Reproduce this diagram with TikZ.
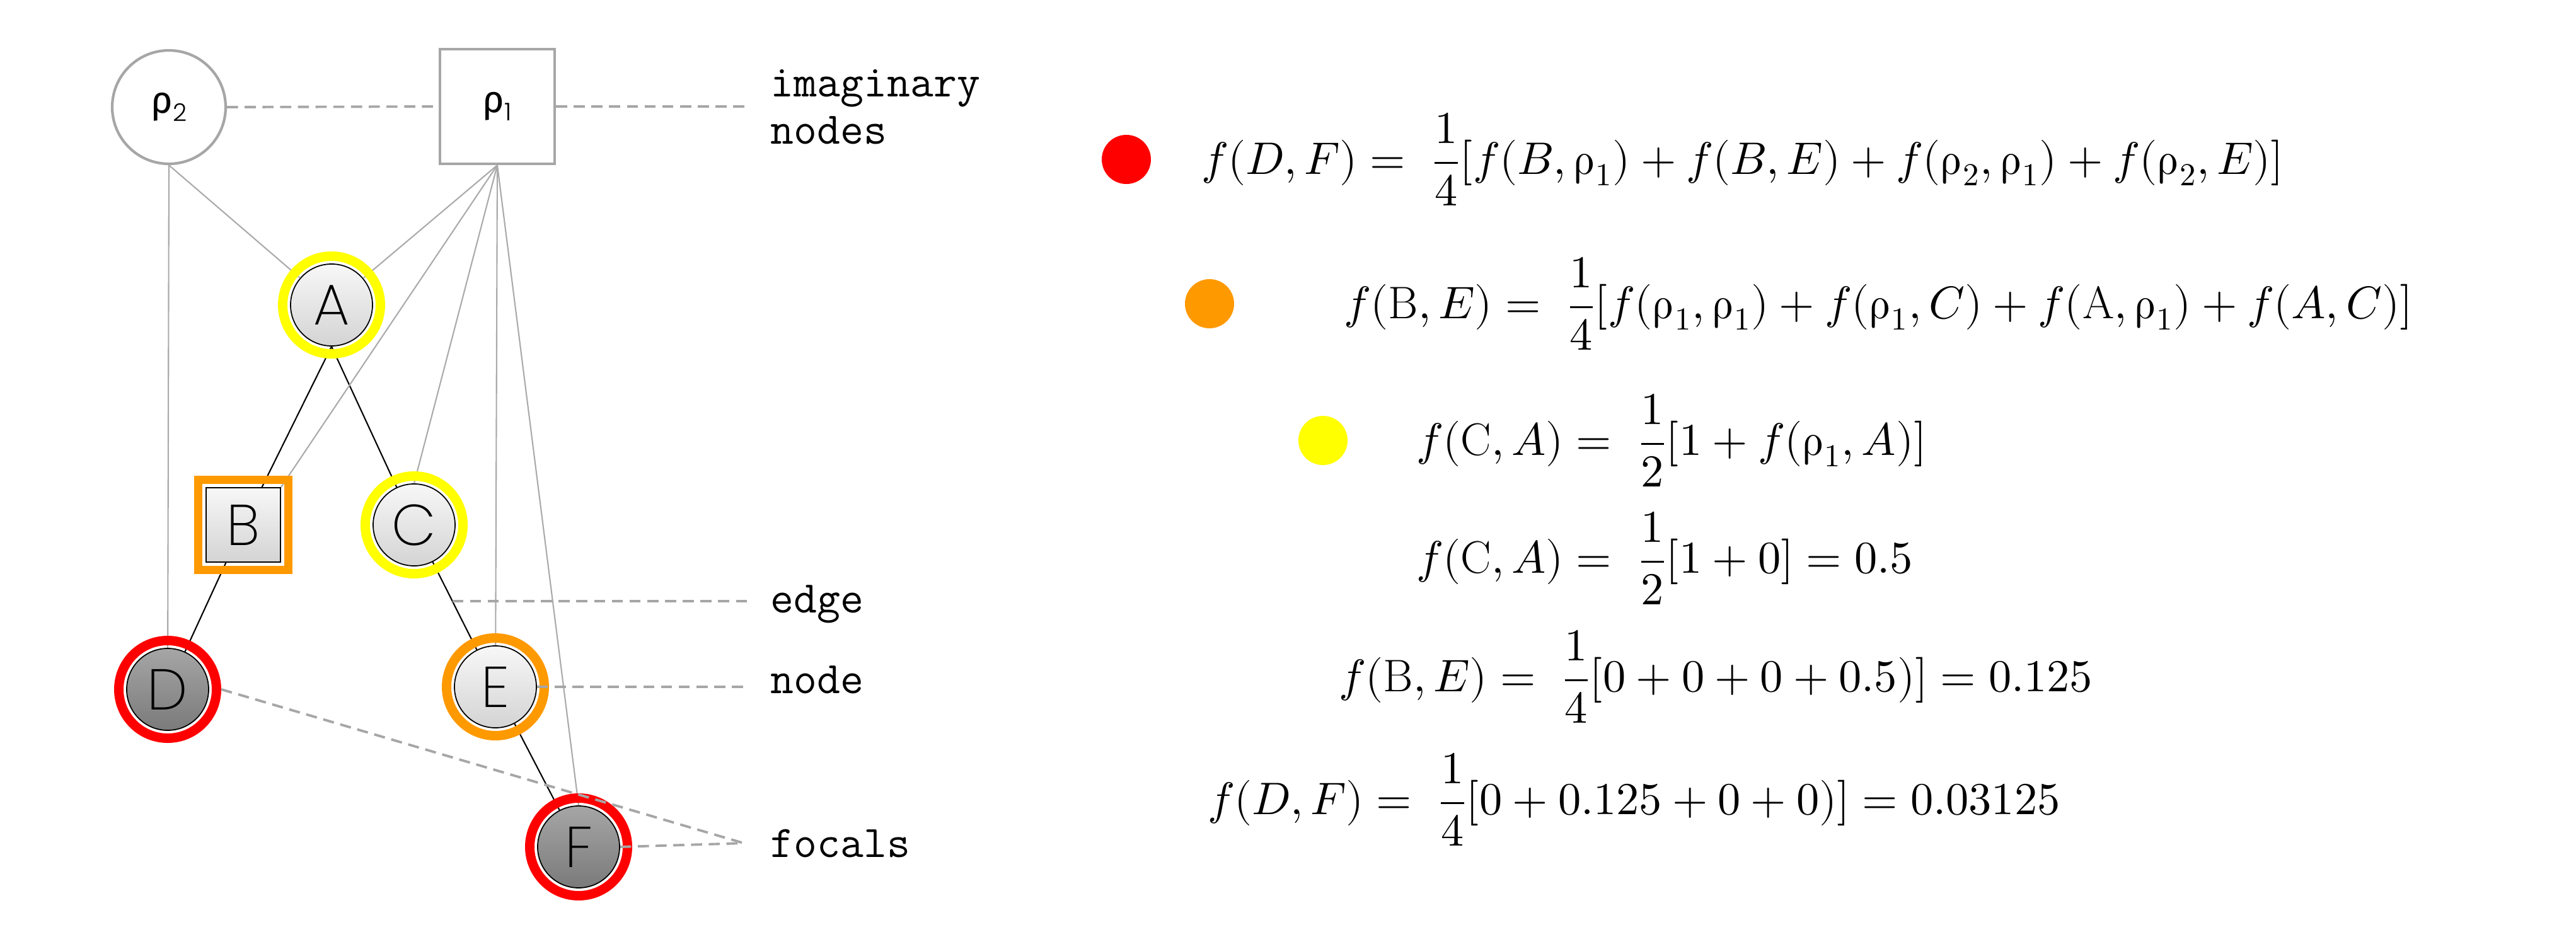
\documentclass[tikz,border=0pt]{standalone}
\usepackage{amsmath}
\usepackage{fontspec}
\usepackage{unicode-math}
\newfontfamily\letterfont{Poppins ExtraLight}
\newfontfamily\subfont{Poppins Light}
\newfontfamily\greekfont{Fira Sans}
\usetikzlibrary{calc}

\definecolor{edgegray}{HTML}{AAAAAA}
\definecolor{dashgray}{HTML}{A6A6A6}
\definecolor{focalred}{HTML}{FF0000}
\definecolor{focalorange}{HTML}{FF9900}
\definecolor{focalyellow}{HTML}{FFFF00}

\newcommand{\urho}{\symup{\rho}}
\newcommand{\rholab}[1]{{\greekfont\fontsize{17}{17}\selectfont ρ}{\subfont\fontsize{11}{11}\selectfont\raisebox{-3.5pt}{#1}}}

\begin{document}
\begin{tikzpicture}[
    every node/.style={font=\letterfont\fontsize{26}{28}\selectfont},
    tnode/.style={
        circle,
        draw=black,
        line width=0.5pt,
        minimum size=1.30cm,
        inner sep=0pt,
        top color=black!3,
        bottom color=black!17
    },
    focal/.style={tnode, top color=black!35, bottom color=black!52},
    sqnode/.style={tnode, rectangle, minimum size=1.18cm},
    imag/.style={
        draw=dashgray,
        line width=1.2pt,
        fill=white,
        inner sep=0pt
    },
    ring/.style={circle, draw=#1, line width=0.15cm, minimum size=1.55cm, inner sep=0pt},
    sqring/.style={rectangle, draw=#1, line width=0.13cm, minimum size=1.43cm, inner sep=0pt},
    tree/.style={draw=black, line width=0.6pt},
    link/.style={draw=edgegray, line width=0.6pt},
    guide/.style={draw=dashgray, line width=1.1pt, dash pattern=on 5pt off 3pt},
    lab/.style={
        font=\ttfamily\fontsize{20.4}{21.3}\selectfont,
        inner xsep=0.37cm,
        inner ysep=0pt,
        align=left
    },
    dot/.style={circle, fill=#1, minimum size=0.78cm, inner sep=0pt},
    eq/.style={font=\fontsize{20.6}{25}\selectfont, anchor=west, inner sep=0pt}
]
\useasboundingbox (0,0) rectangle (40.87,-14.87);

\node[imag, circle, minimum size=1.80cm] (rho2) at (2.68,-1.70) {\rholab{2}};
\node[imag, rectangle, minimum size=1.82cm] (rho1) at (7.89,-1.69) {\rholab{1}};
\node[tnode] (A) at (5.26,-4.84) {A};
\node[sqnode] (B) at (3.86,-8.33) {B};
\node[tnode] (C) at (6.57,-8.33) {C};
\node[focal] (D) at (2.66,-10.94) {D};
\node[tnode] (E) at (7.86,-10.90) {E};
\node[focal] (F) at (9.18,-13.44) {F};

\draw[tree] (A.south) -- (B);
\draw[tree] (A.south) -- (C);
\draw[tree] (B) -- (D);
\draw[tree] (C) -- (E);
\draw[tree] (E) -- (F);

\draw[link] (rho2.south) -- (A);
\draw[link] (rho2.south) -- (D);
\draw[link] (rho1.south) -- (A);
\draw[link] (rho1.south) -- (B.north east);
\draw[link] (rho1.south) -- (C.north);
\draw[link] (rho1.south) -- (E);
\draw[link] (rho1.south) -- (F.north);

\node[ring=focalyellow] (ringA) at (A) {};
\node[sqring=focalorange] (ringB) at (B) {};
\node[ring=focalyellow] (ringC) at (C) {};
\node[ring=focalred] (ringD) at (D) {};
\node[ring=focalorange] (ringE) at (E) {};
\node[ring=focalred] (ringF) at (F) {};

\node[lab, anchor=north west] (imaglab) at (11.85,-1.10) {imaginary\\nodes};
\node[lab, anchor=base west] (edgelab) at (11.85,-9.72) {edge};
\node[lab, anchor=base west] (nodelab) at (11.85,-11.00) {node};
\node[lab, anchor=base west] (foclab) at (11.85,-13.60) {focals};
\coordinate (ce) at ($(C)!0.47!(E)$);
\coordinate (foc) at ([xshift=-0.05cm]foclab.west);

\draw[guide] (rho2.east) -- (rho1.west);
\draw[guide] (rho1.east) -- (rho1.east -| imaglab.west);
\draw[guide] (ce) -- (ce -| edgelab.west);
\draw[guide] (E.east) -- (E.east -| nodelab.west);
\draw[guide] (ringD.east) -- (foc);
\draw[guide] (F.east) -- (foc);

\node[dot=focalred] (dotD) at (17.87,-2.53) {};
\node[dot=focalorange] (dotB) at (19.19,-4.82) {};
\node[dot=focalyellow] (dotC) at (20.99,-6.99) {};

\node[eq] (eqDF) at (19.06,-2.53) {$f(D,F) =\ \dfrac{1}{4}[f(B,\urho_1)+f(B,E)+f(\urho_2,\urho_1)+f(\urho_2,E)]$};
\node[eq] (eqBE) at (21.32,-4.82) {$f(\mathrm{B},E) =\ \dfrac{1}{4}[f(\urho_1,\urho_1)+f(\urho_1,C)+f(\mathrm{A},\urho_1)+f(A,C)]$};
\node[eq] (eqCA) at (22.47,-6.99) {$f(\mathrm{C},A) =\ \dfrac{1}{2}[1+f(\urho_1,A)]$};
\node[eq] (valCA) at (22.47,-8.86) {$f(\mathrm{C},A) =\ \dfrac{1}{2}[1+0] = 0.5$};
\node[eq] (valBE) at (21.24,-10.74) {$f(\mathrm{B},E) =\ \dfrac{1}{4}[0+0+0+0.5)] = 0.125$};
\node[eq] (valDF) at (19.16,-12.69) {$f(D,F) =\ \dfrac{1}{4}[0+0.125+0+0)] = 0.03125$};
\end{tikzpicture}
\end{document}
